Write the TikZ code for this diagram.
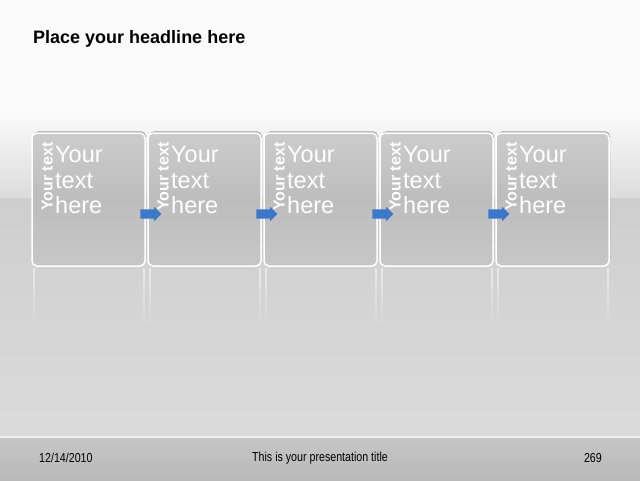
\documentclass[tikz,border=0pt]{standalone}
\usepackage{fontspec}
\setmainfont{Liberation Sans}
\newfontfamily\narrowfont[FakeStretch=0.82]{Liberation Sans}
\usetikzlibrary{shapes.arrows,shadows}

\definecolor{bgtop}{HTML}{FBFBFB}
\definecolor{bgmid}{HTML}{DCDCDC}
\definecolor{floor}{HTML}{CECECE}
\definecolor{floorlow}{HTML}{DBDBDB}
\definecolor{foot}{HTML}{C6C6C6}
\definecolor{footlow}{HTML}{B9B9B9}
\definecolor{boxtop}{HTML}{CCCCCC}
\definecolor{boxmid}{HTML}{BDBDBD}
\definecolor{boxlow}{HTML}{C7C7C7}
\definecolor{arrowblue}{HTML}{3A78CC}

\begin{document}
\begin{tikzpicture}[x=1pt, y=-1pt,
  stepbox/.style={rectangle, rounded corners=5pt, draw=white, line width=1.5pt,
    minimum width=113pt, minimum height=133pt,
    top color=boxtop, bottom color=boxlow, middle color=boxmid,
    drop shadow={shadow xshift=1pt, shadow yshift=1.6pt, fill=gray!75, opacity=1}},
  side/.style={rotate=90, anchor=base west, inner sep=0pt, text=white,
    font=\fontsize{16}{17}\selectfont\bfseries},
  body/.style={anchor=north west, inner sep=0pt, align=left, text=white,
    font=\fontsize{23.5}{25.5}\selectfont},
  flow/.style={single arrow, fill=arrowblue, draw=none, minimum height=21pt,
    minimum width=14pt, inner sep=4.5pt, single arrow head extend=2.5pt},
  reflect/.style={top color=white!55!floor, bottom color=floor!60!floorlow, draw=none},
  foottext/.style={font=\fontsize{13}{14}\selectfont\narrowfont, text=black, inner sep=0pt}
]
\useasboundingbox (0,0) rectangle (640,480);

% Background
\fill[bgtop] (0,0) rectangle (640,110);
\shade[top color=bgtop, bottom color=bgmid] (0,110) rectangle (640,198);
\shade[top color=floor, bottom color=floorlow] (0,198) rectangle (640,437);
\shade[top color=foot, bottom color=footlow] (0,437) rectangle (640,480);
\draw[white!88!gray, line width=1.5pt] (0,437) -- (640,437);

% Headline
\node[anchor=base west, inner sep=0pt, font=\fontsize{18}{20}\selectfont\bfseries]
  (headline) at (33,43) {Place your headline here};

% Boxes
\node[stepbox] (box1) at (88.5,199.5) {};
\node[stepbox] (box2) at (204.5,199.5) {};
\node[stepbox] (box3) at (320.5,199.5) {};
\node[stepbox] (box4) at (436.5,199.5) {};
\node[stepbox] (box5) at (552.5,199.5) {};

% Reflections below the boxes
\shade[reflect] (33,268) rectangle (34.5,330);
\shade[reflect] (143,268) rectangle (144.5,330);
\shade[reflect] (149,268) rectangle (150.5,330);
\shade[reflect] (259,268) rectangle (260.5,330);
\shade[reflect] (265,268) rectangle (266.5,330);
\shade[reflect] (375,268) rectangle (376.5,330);
\shade[reflect] (381,268) rectangle (382.5,330);
\shade[reflect] (491,268) rectangle (492.5,330);
\shade[reflect] (497,268) rectangle (498.5,330);
\shade[reflect] (607,268) rectangle (608.5,330);

% Vertical labels
\node[side] (side1) at (52.5,211) {Your text};
\node[side] (side2) at (168.5,211) {Your text};
\node[side] (side3) at (284.5,211) {Your text};
\node[side] (side4) at (400.5,211) {Your text};
\node[side] (side5) at (516.5,211) {Your text};

% Box texts
\node[body] (body1) at (55,146.5) {Your\\text\\here};
\node[body] (body2) at (171,146.5) {Your\\text\\here};
\node[body] (body3) at (287,146.5) {Your\\text\\here};
\node[body] (body4) at (403,146.5) {Your\\text\\here};
\node[body] (body5) at (519,146.5) {Your\\text\\here};

% Arrows between boxes
\node[flow] (arr12) at (148.5,214) {};
\node[flow] (arr23) at (264.5,214) {};
\node[flow] (arr34) at (380.5,214) {};
\node[flow] (arr45) at (496.5,214) {};

% Footer
\node[foottext, anchor=west] (date) at (39,458) {12/14/2010};
\node[foottext] (title) at (320,458) {This is your presentation title};
\node[foottext, anchor=east] (page) at (602,458) {269};

\end{tikzpicture}
\end{document}
